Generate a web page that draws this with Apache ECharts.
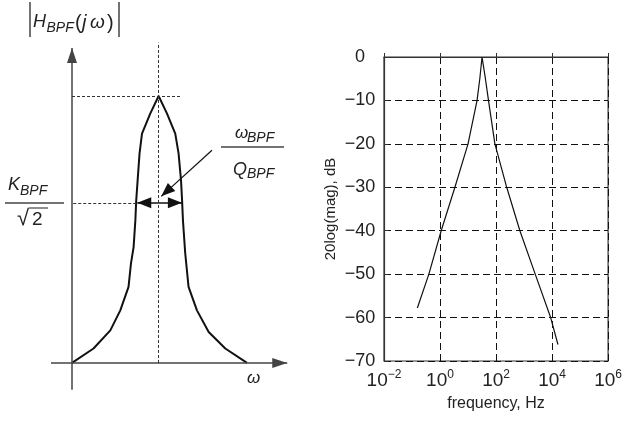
<!DOCTYPE html>
<html>
<head>
<meta charset="utf-8">
<script src="https://cdn.jsdelivr.net/npm/echarts@6/dist/echarts.min.js"></script>
<style>
  html, body { margin: 0; padding: 0; background: #fff; }
  #chart { width: 625px; height: 421px; }
</style>
</head>
<body>
<div id="chart"></div>
<script>
// left: schematic |H_BPF(jw)| (normalised, peak = 1)
var omega = [0, 1.23, 2.19, 2.76, 3.23, 3.37, 3.52, 3.62, 3.67, 3.75, 3.86, 4.0, 4.47, 4.95,
             5.43, 5.90, 6.09, 6.23, 6.29, 6.34, 6.47, 6.66, 7.14, 7.81, 8.76, 10.0];
var mag = [0, 0.054, 0.122, 0.197, 0.285, 0.373, 0.434, 0.534, 0.609, 0.684, 0.785, 0.859, 0.934, 1.0,
           0.934, 0.859, 0.785, 0.684, 0.609, 0.534, 0.411, 0.285, 0.197, 0.116, 0.054, 0];
var peakW = 4.95, halfMag = 0.6, bwLow = 3.73, bwHigh = 6.28;

// right: bode magnitude
var freqHz = [0.155, 0.40, 1.10, 3.4, 10, 21, 26.3, 31.6, 41.7, 53.7, 91, 240, 710, 2500, 8900, 16200];
var dB = [-57.8, -50, -40, -30, -20, -10, -5, 0, -5, -10, -20, -30, -40, -50, -60, -66.2];

var FONT = '"Liberation Sans", Arial, sans-serif';

var chart = echarts.init(document.getElementById('chart'));

var curve = omega.map(function (w, i) { return [w, mag[i]]; });
var bode = freqHz.map(function (f, i) { return [f, dB[i]]; });

function pt(x, y, extra) {
  var o = { coord: [x, y] };
  for (var k in extra) o[k] = extra[k];
  return o;
}

function txt(x, y, s, size, italic, align) {
  return {
    type: 'text', x: x, y: y, silent: true,
    style: {
      text: s,
      font: (italic ? 'italic ' : '') + size + 'px ' + FONT,
      fill: '#222',
      align: align || 'left',
      verticalAlign: 'middle'
    }
  };
}
function seg(x1, y1, x2, y2, w) {
  return {
    type: 'line', silent: true,
    shape: { x1: x1, y1: y1, x2: x2, y2: y2 },
    style: { stroke: '#444', lineWidth: w || 1.5 }
  };
}

var option = {
  animation: false,
  backgroundColor: '#fff',
  textStyle: { fontFamily: FONT },
  grid: [
    { left: 37, top: 29.25, width: 262.5, height: 373.75 },
    { left: 384, top: 57, width: 229, height: 304, show: true, borderColor: '#333', borderWidth: 1.2 }
  ],
  xAxis: [
    { gridIndex: 0, type: 'value', min: -2, max: 13, show: false },
    {
      gridIndex: 1, type: 'log', logBase: 10, min: 0.01, max: 1e6, interval: 2, splitNumber: 4,
      name: 'frequency, Hz', nameLocation: 'middle', nameGap: 34,
      nameTextStyle: { fontSize: 16, color: '#222' },
      axisLine: { show: true, lineStyle: { color: '#333', width: 1.2 } },
      axisTick: { show: true, inside: true, length: 4, lineStyle: { color: '#333' } },
      splitLine: { show: true, lineStyle: { color: '#111', type: [7, 4], width: 1 } },
      axisLabel: {
        margin: 8, color: '#222',
        formatter: function (v) {
          var e = Math.round(Math.log(v) / Math.LN10);
          return '{b|10}{s|' + (e < 0 ? '\u2212' + (-e) : e) + '}';
        },
        rich: {
          b: { fontSize: 19, color: '#222', fontFamily: FONT },
          s: { fontSize: 12, color: '#222', fontFamily: FONT, padding: [0, 0, 12, 0] }
        }
      }
    }
  ],
  yAxis: [
    { gridIndex: 0, type: 'value', min: -0.15, max: 1.25, show: false },
    {
      gridIndex: 1, type: 'value', min: -70, max: 0, interval: 10,
      name: '20log(mag), dB', nameLocation: 'middle', nameGap: 46,
      nameTextStyle: { fontSize: 15, color: '#222' },
      axisLine: { show: true, lineStyle: { color: '#333', width: 1.2 } },
      axisTick: { show: true, inside: true, length: 4, lineStyle: { color: '#333' } },
      splitLine: { show: true, lineStyle: { color: '#111', type: [7, 4], width: 1 } },
      axisLabel: {
        margin: 24, align: 'center', fontSize: 18, color: '#222',
        formatter: function (v) { return v < 0 ? '\u2212' + (-v) : String(v); }
      }
    }
  ],
  series: [
    {
      // coordinate axes with arrow heads
      type: 'line', xAxisIndex: 0, yAxisIndex: 0, data: [], silent: true,
      markLine: {
        silent: true, symbol: ['none', 'triangle'], symbolSize: [10, 15],
        symbolOffset: [0, [0, 7.5]],
        label: { show: false },
        lineStyle: { color: '#444', width: 1.5, type: 'solid' },
        data: [
          [pt(-1.2, 0), pt(12.3, 0)],
          [pt(0, -0.1), pt(0, 1.18)]
        ]
      }
    },
    {
      // dashed guides
      type: 'line', xAxisIndex: 0, yAxisIndex: 0, data: [], silent: true,
      markLine: {
        silent: true, symbol: 'none', label: { show: false },
        lineStyle: { color: '#333', width: 1, type: [3, 2] },
        data: [
          [pt(peakW, 0), pt(peakW, 1.2)],
          [pt(0, 1), pt(6.25, 1)],
          [pt(0.07, halfMag), pt(bwLow, halfMag)]
        ]
      }
    },
    {
      // bandwidth arrows and pointer
      type: 'line', xAxisIndex: 0, yAxisIndex: 0, data: [], silent: true,
      markLine: {
        silent: true, symbol: ['none', 'triangle'], symbolSize: [11, 14],
        symbolOffset: [0, [0, 7]],
        label: { show: false },
        lineStyle: { color: '#111', width: 1.5, type: 'solid' },
        data: [
          [pt(peakW, halfMag), pt(bwLow, halfMag)],
          [pt(peakW, halfMag), pt(bwHigh, halfMag)],
          [pt(8.0, 0.797, { lineStyle: { curveness: 0.3, color: '#111', width: 1.2 } }), pt(5.1, 0.624)]
        ]
      }
    },
    {
      type: 'line', xAxisIndex: 0, yAxisIndex: 0, data: curve,
      symbol: 'none', silent: true,
      lineStyle: { color: '#111', width: 2 }
    },
    {
      type: 'line', xAxisIndex: 1, yAxisIndex: 1, data: bode,
      symbol: 'none', silent: true,
      lineStyle: { color: '#111', width: 1.2 }
    }
  ],
  graphic: [
    // |H_BPF(jw)|
    seg(30, 2, 30, 37, 1.5),
    seg(119, 2, 119, 37, 1.5),
    txt(33, 22, 'H', 18, true),
    txt(46.5, 28.5, 'BPF', 14, true),
    txt(75, 23, '(', 20, false),
    txt(82, 23, 'j', 20, true),
    txt(90, 23, '\u03c9', 19, true),
    txt(107, 23, ')', 20, false),
    // K_BPF / sqrt(2)
    txt(8, 185, 'K', 18, true),
    txt(20, 191, 'BPF', 14, true),
    seg(5, 203, 64, 203, 1.5),
    txt(17, 219, '\u221a', 22, false),
    seg(29, 208, 48, 208, 1.2),
    txt(32, 220, '2', 19, false),
    // w_BPF / Q_BPF
    txt(235, 133, '\u03c9', 17, true),
    txt(247, 138.5, 'BPF', 14, true),
    seg(221, 147, 284, 147, 1.5),
    txt(233, 169.5, 'Q', 18, true),
    txt(247, 174.5, 'BPF', 14, true),
    // omega axis label
    txt(247, 378, '\u03c9', 17, true)
  ]
};

chart.setOption(option);
</script>
</body>
</html>
